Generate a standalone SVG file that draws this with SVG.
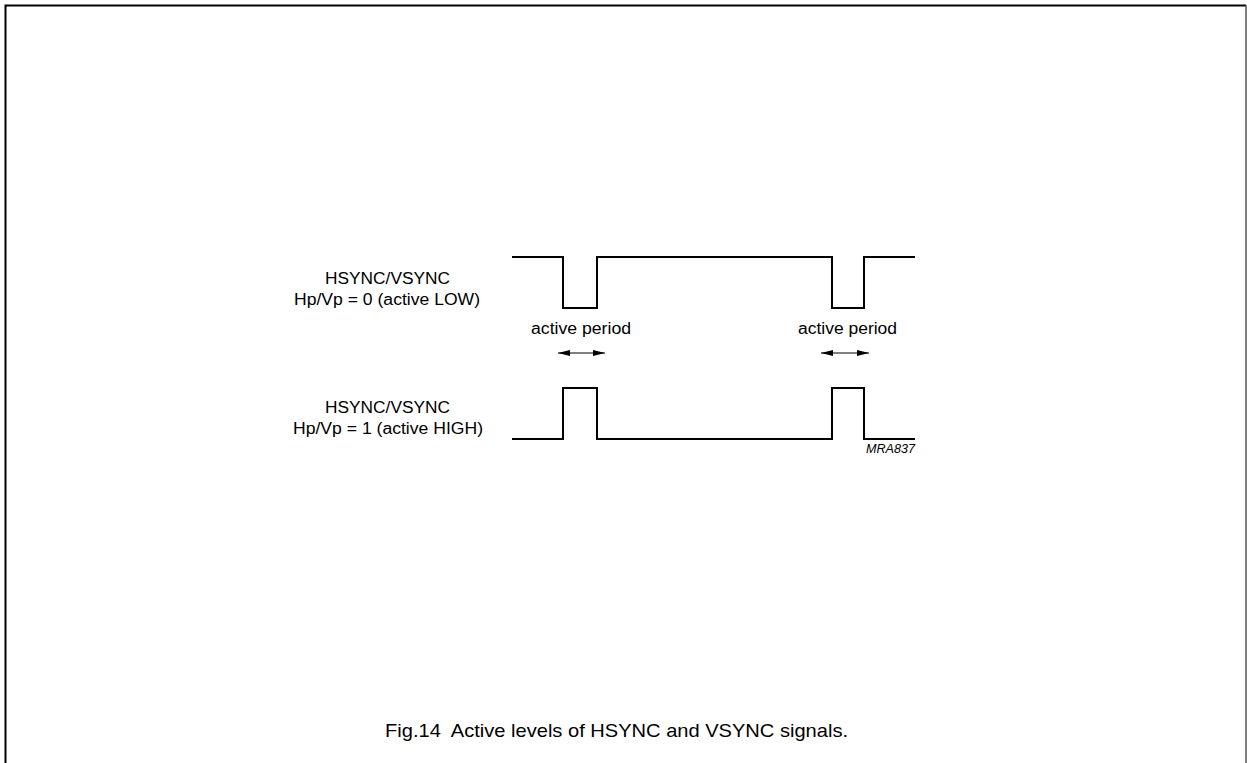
<svg xmlns="http://www.w3.org/2000/svg" width="1247" height="763" viewBox="0 0 1247 763">
<style>
.w{fill:none;stroke:#000;stroke-width:2}
.t{font-family:"Liberation Sans",Arial,sans-serif;font-size:16px;fill:#000}
.a{stroke:#000;stroke-width:1.2;fill:none}
</style>
<defs>
<marker id="ah" viewBox="0 0 12 6" refX="12" refY="3" markerWidth="12" markerHeight="6" markerUnits="userSpaceOnUse" orient="auto-start-reverse"><path d="M0,0L12,3L0,6z" fill="#000"/></marker>
</defs>
<rect width="1247" height="763" fill="#fff"/>
<path d="M5.5,763V5.5H1246" fill="none" stroke="#000" stroke-width="2"/>
<line x1="1246" y1="5" x2="1246" y2="763" stroke="#555" stroke-width="1.5"/>
<g id="sig-low">
<path class="w" d="M512,257H563V308H597V257H832V308H864V257H915"/>
<text class="t" x="325" y="284" textLength="125" lengthAdjust="spacingAndGlyphs">HSYNC/VSYNC</text>
<text class="t" x="294" y="305" textLength="186" lengthAdjust="spacingAndGlyphs">Hp/Vp = 0 (active LOW)</text>
</g>
<g id="sig-high">
<path class="w" d="M512,439H563V388H597V439H832V388H864V439H915"/>
<text class="t" x="325" y="413" textLength="125" lengthAdjust="spacingAndGlyphs">HSYNC/VSYNC</text>
<text class="t" x="293" y="434" textLength="190" lengthAdjust="spacingAndGlyphs">Hp/Vp = 1 (active HIGH)</text>
</g>
<g id="connectors">
<line class="a" x1="558" y1="353" x2="605" y2="353" marker-start="url(#ah)" marker-end="url(#ah)"/>
<line class="a" x1="821" y1="353" x2="869" y2="353" marker-start="url(#ah)" marker-end="url(#ah)"/>
</g>
<g id="labels">
<text class="t" x="531" y="334" textLength="100" lengthAdjust="spacingAndGlyphs">active period</text>
<text class="t" x="798" y="334" textLength="99" lengthAdjust="spacingAndGlyphs">active period</text>
<text x="866" y="453" textLength="49" lengthAdjust="spacingAndGlyphs" font-family="'Liberation Sans',Arial,sans-serif" font-size="12" font-style="italic">MRA837</text>
<text x="385" y="737" textLength="463" lengthAdjust="spacingAndGlyphs" font-family="'Liberation Sans',Arial,sans-serif" font-size="19" xml:space="preserve">Fig.14  Active levels of HSYNC and VSYNC signals.</text>
</g>
</svg>
